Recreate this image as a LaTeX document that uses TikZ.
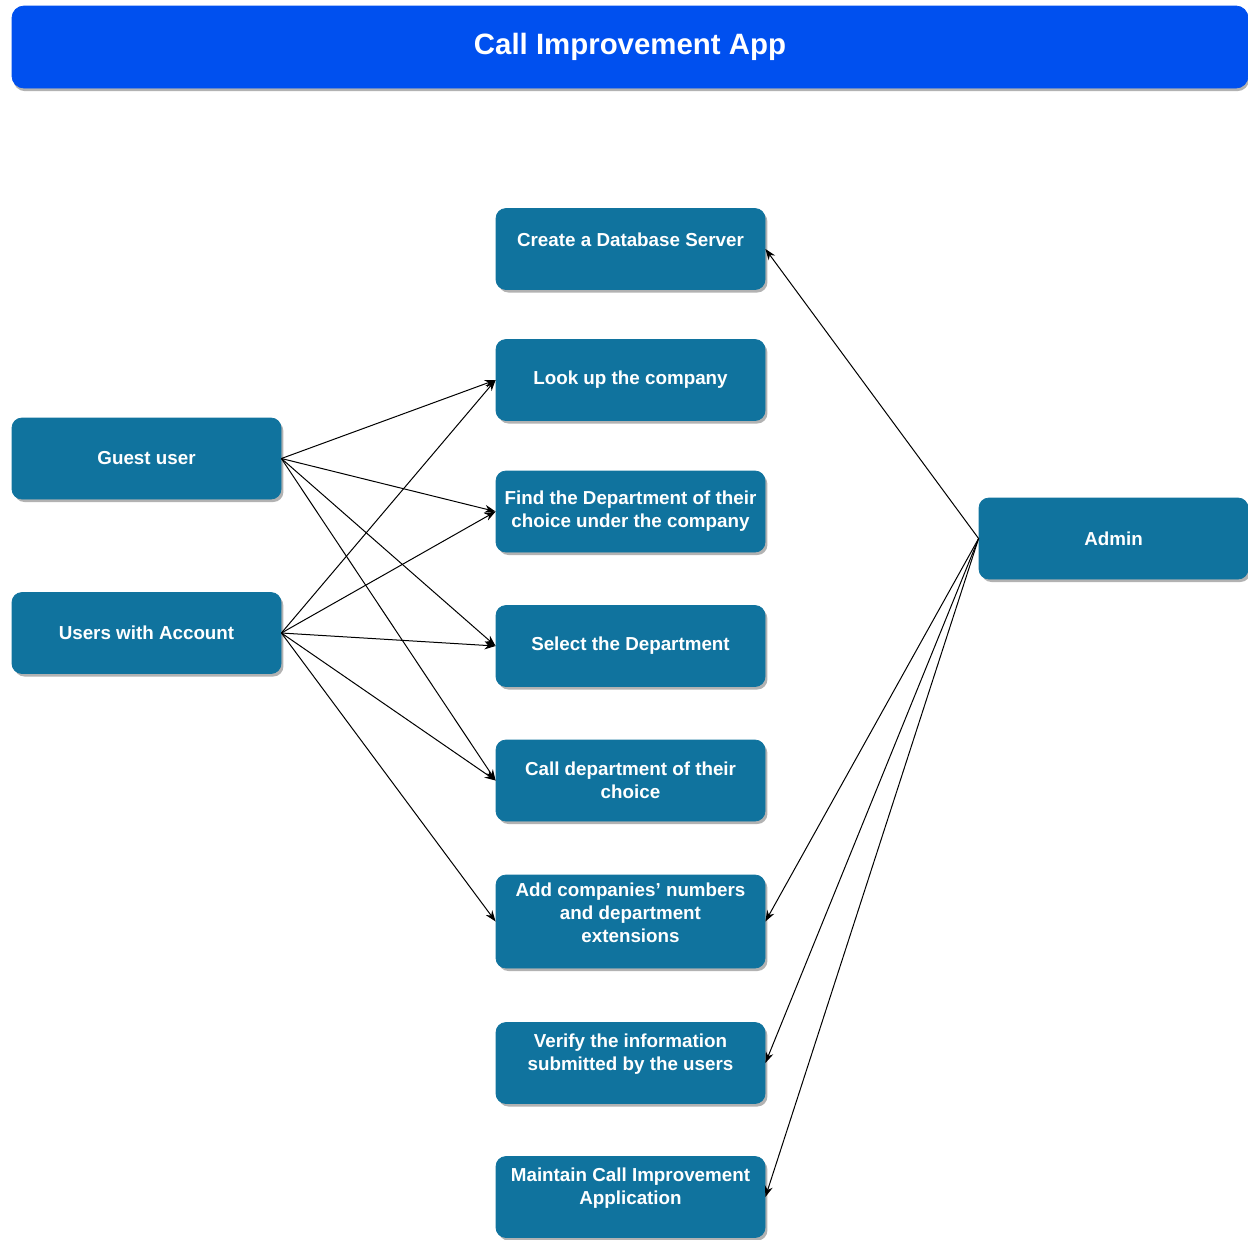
\documentclass[tikz,border=0pt]{standalone}
\usepackage{fontspec}
\setmainfont{Liberation Sans}
\usetikzlibrary{arrows.meta,shadows}
\definecolor{titleblue}{HTML}{0050EF}
\definecolor{boxblue}{HTML}{10739E}
\tikzset{
	boxfont/.style={font=\bfseries\fontsize{9.4}{11.5}\selectfont},
	box/.style={draw=boxblue, fill=boxblue, rounded corners=5pt, minimum width=134.5pt, minimum height=40.5pt, text=white, align=center, boxfont,
		drop shadow={shadow xshift=1.2pt, shadow yshift=-1.5pt, opacity=0.3, fill=black}},
	boxlabel/.style={text=white, align=center, boxfont, yshift=4.6pt},
	link/.style={-{Stealth[length=5.5pt,width=4pt]}, line width=0.5pt, black},
}
\begin{document}
\begin{tikzpicture}[x=0.5pt, y=-0.5pt]
			\useasboundingbox (0,0) rectangle (1248,1239);
			
			%Title
			\node[draw=titleblue, fill=titleblue, rounded corners=6pt, minimum width=618pt, minimum height=41pt, text=white,
				font=\bfseries\fontsize{14.7}{17}\selectfont,
				drop shadow={shadow xshift=0.6pt, shadow yshift=-1.6pt, opacity=0.3, fill=black}] (title) at (630,47) {Call Improvement App};
			
			%Users
			\node[box] (guest) at (146.5,458.5) {Guest user};
			\node[box] (account) at (146.5,633) {Users with Account};
			
			%Admin
			\node[box] (admin) at (1113.5,538.5) {Admin};
			
			%Use cases
			\node[box, label={[name=createtxt, boxlabel]center:Create a Database Server}] (create) at (630.5,249) {};
			\node[box] (lookup) at (630.5,380) {Look up the company};
			\node[box] (find) at (630.5,511.5) {Find the Department of their\\choice under the company};
			\node[box] (select) at (630.5,646) {Select the Department};
			\node[box] (call) at (630.5,780.5) {Call department of their\\choice};
			\node[box, minimum height=46.5pt, label={[name=addtxt, boxlabel]center:{Add companies' numbers\\and department\\extensions}}] (add) at (630.5,921.5) {};
			\node[box, label={[name=verifytxt, boxlabel]center:{Verify the information\\submitted by the users}}] (verify) at (630.5,1063) {};
			\node[box, label={[name=maintaintxt, boxlabel]center:{Maintain Call Improvement\\Application}}] (maintain) at (630.5,1197) {};
			
			%Guest user links
			\foreach \t in {lookup,find,select,call}
				\draw[link] (guest.east) -- (\t.west);
			
			%Users with Account links
			\foreach \t in {lookup,find,select,call,add}
				\draw[link] (account.east) -- (\t.west);
			
			%Admin links
			\foreach \t in {create,add,verify,maintain}
				\draw[link] (admin.west) -- (\t.east);
		\end{tikzpicture}
\end{document}
